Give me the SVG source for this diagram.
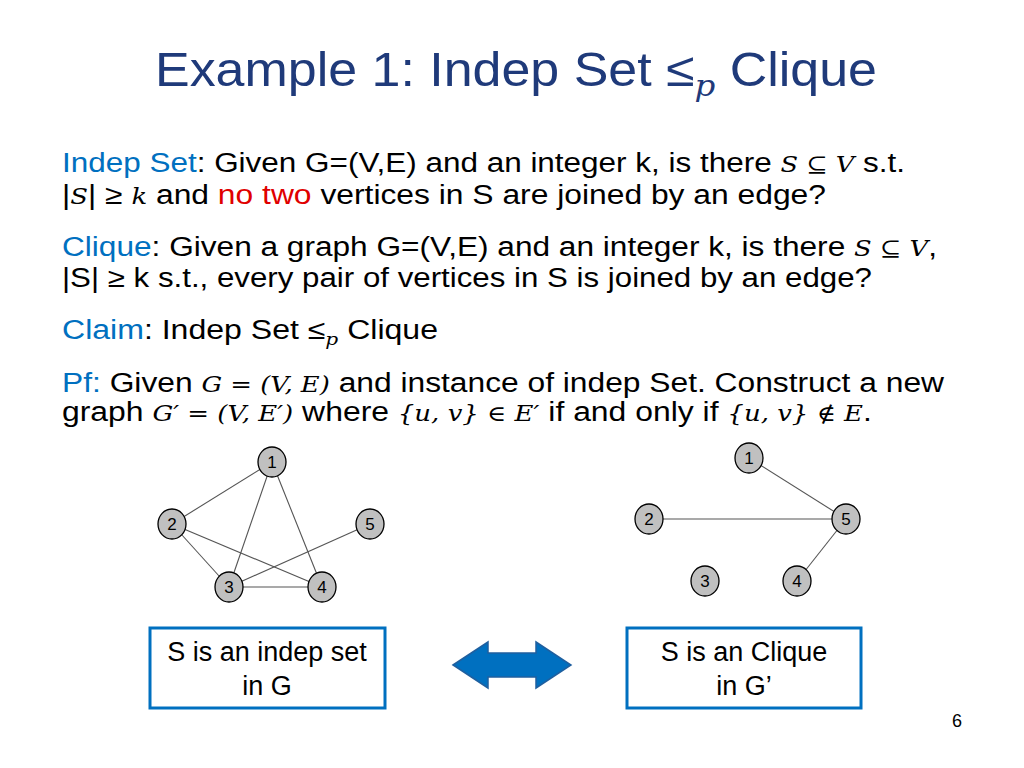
<svg xmlns="http://www.w3.org/2000/svg" width="1024" height="768" viewBox="0 0 1024 768">
<style>
.t{font-family:"Liberation Sans",Arial,sans-serif;font-size:27px;fill:#000}
.m{font-family:"DejaVu Serif","Liberation Serif",serif;font-style:italic}
.b{fill:#0070c0}
.n ellipse{fill:#c0c0c0;stroke:#000;stroke-width:1.3}
.n text{font-family:"Liberation Sans",Arial,sans-serif;font-size:17px;text-anchor:middle;fill:#000}
.e line{stroke:#555;stroke-width:1.1}
.box{fill:#fff;stroke:#0070c0;stroke-width:3}
</style>
<rect width="1024" height="768" fill="#fff"/>
<text x="155" y="86" textLength="722" lengthAdjust="spacingAndGlyphs" font-family="Liberation Sans,Arial,sans-serif" font-size="48" fill="#1f3a7a">Example 1: Indep Set ≤<tspan font-family="DejaVu Serif,serif" font-style="italic" font-size="30" dy="10">p</tspan><tspan dy="-10"> Clique</tspan></text>
<text class="t" x="62" y="172" textLength="843" lengthAdjust="spacingAndGlyphs"><tspan class="b">Indep Set</tspan>: Given G=(V,E) and an integer k, is there <tspan class="m" font-size="22">S ⊆ V</tspan> s.t.</text>
<text class="t" x="62" y="204" textLength="764" lengthAdjust="spacingAndGlyphs">|<tspan class="m" font-size="22">S</tspan>| ≥ <tspan class="m" font-size="22">k</tspan> and <tspan fill="#e00000">no two</tspan> vertices in S are joined by an edge?</text>
<text class="t" x="62" y="256" textLength="875" lengthAdjust="spacingAndGlyphs"><tspan class="b">Clique</tspan>: Given a graph G=(V,E) and an integer k, is there <tspan class="m" font-size="22">S ⊆ V</tspan>,</text>
<text class="t" x="62" y="287" textLength="810" lengthAdjust="spacingAndGlyphs">|S| ≥ k s.t., every pair of vertices in S is joined by an edge?</text>
<text class="t" x="62" y="339" textLength="376" lengthAdjust="spacingAndGlyphs"><tspan class="b">Claim</tspan>: Indep Set ≤<tspan class="m" font-size="17" dy="6">p</tspan><tspan dy="-6"> Clique</tspan></text>
<text class="t" x="62" y="392" textLength="882" lengthAdjust="spacingAndGlyphs"><tspan class="b">Pf:</tspan> Given <tspan class="m" font-size="22">G = (V, E)</tspan> and instance of indep Set. Construct a new</text>
<text class="t" x="62" y="421" textLength="810" lengthAdjust="spacingAndGlyphs">graph <tspan class="m" font-size="22">G′ = (V, E′)</tspan> where <tspan class="m" font-size="22">{u, v} ∈ E′</tspan> if and only if <tspan class="m" font-size="22">{u, v} ∉ E</tspan>.</text>
<g id="connectors" class="e">
<line x1="272" y1="462" x2="172" y2="524"/><line x1="272" y1="462" x2="229" y2="587"/><line x1="272" y1="462" x2="322" y2="587"/>
<line x1="172" y1="524" x2="229" y2="587"/><line x1="172" y1="524" x2="322" y2="587"/><line x1="370" y1="524" x2="229" y2="587"/><line x1="229" y1="587" x2="322" y2="587"/>
<line x1="749" y1="458" x2="846" y2="519"/><line x1="649" y1="519" x2="846" y2="519"/><line x1="797" y1="581" x2="846" y2="519"/>
</g>
<g id="L1" class="n"><ellipse cx="272" cy="462" rx="14" ry="15"/><text x="272" y="468">1</text></g>
<g id="L2" class="n"><ellipse cx="172" cy="524" rx="14" ry="15"/><text x="172" y="530">2</text></g>
<g id="L5" class="n"><ellipse cx="370" cy="524" rx="14" ry="15"/><text x="370" y="530">5</text></g>
<g id="L3" class="n"><ellipse cx="229" cy="587" rx="14" ry="15"/><text x="229" y="593">3</text></g>
<g id="L4" class="n"><ellipse cx="322" cy="587" rx="14" ry="15"/><text x="322" y="593">4</text></g>
<g id="R1" class="n"><ellipse cx="749" cy="458" rx="14" ry="15"/><text x="749" y="464">1</text></g>
<g id="R2" class="n"><ellipse cx="649" cy="519" rx="14" ry="15"/><text x="649" y="525">2</text></g>
<g id="R5" class="n"><ellipse cx="846" cy="519" rx="14" ry="15"/><text x="846" y="525">5</text></g>
<g id="R3" class="n"><ellipse cx="705" cy="581" rx="14" ry="15"/><text x="705" y="587">3</text></g>
<g id="R4" class="n"><ellipse cx="797" cy="581" rx="14" ry="15"/><text x="797" y="587">4</text></g>
<g id="boxL"><rect class="box" x="150" y="628" width="235" height="80"/><text class="t" x="267" y="661" text-anchor="middle">S is an indep set</text><text class="t" x="267" y="695" text-anchor="middle">in G</text></g>
<g id="boxR"><rect class="box" x="627" y="628" width="234" height="80"/><text class="t" x="744" y="661" text-anchor="middle">S is an Clique</text><text class="t" x="744" y="695" text-anchor="middle">in G’</text></g>
<g id="arrow"><polygon points="453,665 488,642 488,653 536,653 536,642 571,665 536,688 536,677 488,677 488,688" fill="#0070c0" stroke="#1f5f9f" stroke-width="1.5"/></g>
<text x="957" y="727" text-anchor="middle" font-family="Liberation Sans,Arial,sans-serif" font-size="18">6</text>
</svg>
